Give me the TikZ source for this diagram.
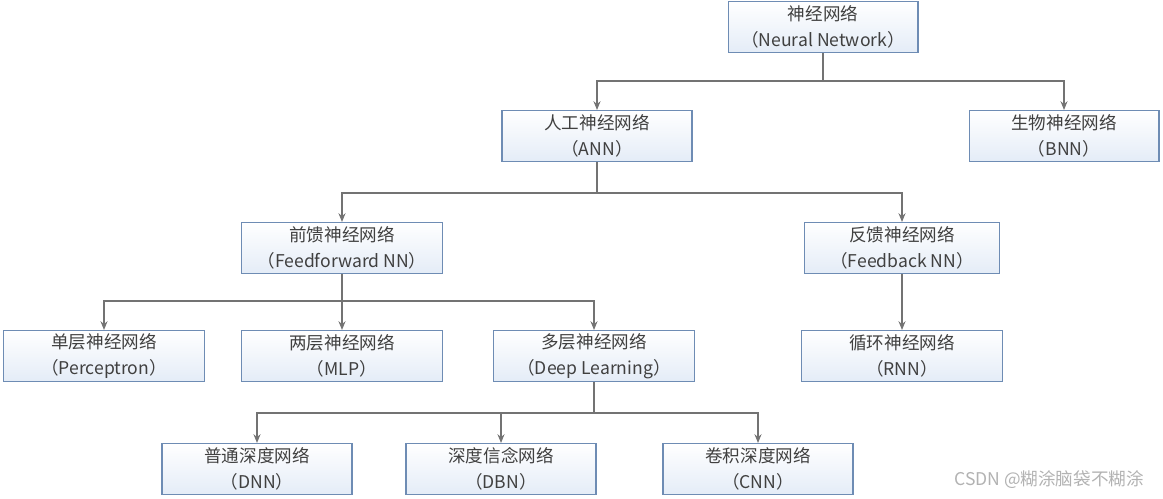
\documentclass[tikz,border=0pt]{standalone}
\usepackage{fontspec}
\setmainfont{Noto Sans CJK SC}
\usetikzlibrary{arrows.meta,calc}
\definecolor{boxline}{RGB}{110,140,180}
\definecolor{boxfill}{RGB}{228,236,247}
\tikzset{
  nnbox/.style = {draw=boxline, line width=0.6pt, top color=white, bottom color=boxfill,
    minimum width=3.8cm, minimum height=1.02cm, align=center, inner sep=1pt,
    font=\fontsize{10}{14.5}\selectfont, text=black!75},
  link/.style = {draw=black!55, line width=0.6pt, -{Stealth[length=5pt,width=4pt]}}
}
\begin{document}
\begin{tikzpicture}[x=0.02cm, y=-0.02cm]
    \useasboundingbox (0,0) rectangle (1163,498);
    \node[nnbox] (nn)  at (823,27)  {神经网络\\（Neural Network）};
    \node[nnbox] (ann) at (597,136) {人工神经网络\\（ANN）};
    \node[nnbox] (bnn) at (1064,136) {生物神经网络\\（BNN）};
    \node[nnbox, minimum width=4.02cm] (ff) at (342,248) {前馈神经网络\\（Feedforward NN）};
    \node[nnbox, minimum width=3.9cm] (fb) at (902,248) {反馈神经网络\\（Feedback NN）};
    \node[nnbox, minimum width=4.02cm] (per) at (104,356) {单层神经网络\\（Perceptron）};
    \node[nnbox, minimum width=4.02cm] (mlp) at (342,356) {两层神经网络\\（MLP）};
    \node[nnbox, minimum width=4.02cm] (dl)  at (594,356) {多层神经网络\\（Deep Learning）};
    \node[nnbox, minimum width=4.02cm] (rnn) at (902,356) {循环神经网络\\（RNN）};
    \node[nnbox] (dnn) at (257,469) {普通深度网络\\（DNN）};
    \node[nnbox] (dbn) at (501,469) {深度信念网络\\（DBN）};
    \node[nnbox] (cnn) at (758,469) {卷积深度网络\\（CNN）};
    \node[text=black!30, font=\fontsize{10}{12}\selectfont, anchor=east] (mark) at (1150,480) {CSDN @糊涂脑袋不糊涂};
    % bars between levels
    \coordinate (b1) at (0,81);
    \coordinate (b2) at (0,193);
    \coordinate (b3) at (0,301);
    \coordinate (b4) at (0,413);
    \foreach \p/\c/\b in {nn/ann/b1, nn/bnn/b1, ann/ff/b2, ann/fb/b2,
        ff/per/b3, ff/mlp/b3, ff/dl/b3, fb/rnn/b3, dl/dnn/b4, dl/dbn/b4, dl/cnn/b4}
      \draw[link] (\p.south) -- (\p.south |- \b) -| (\c.north);
\end{tikzpicture}
\end{document}
